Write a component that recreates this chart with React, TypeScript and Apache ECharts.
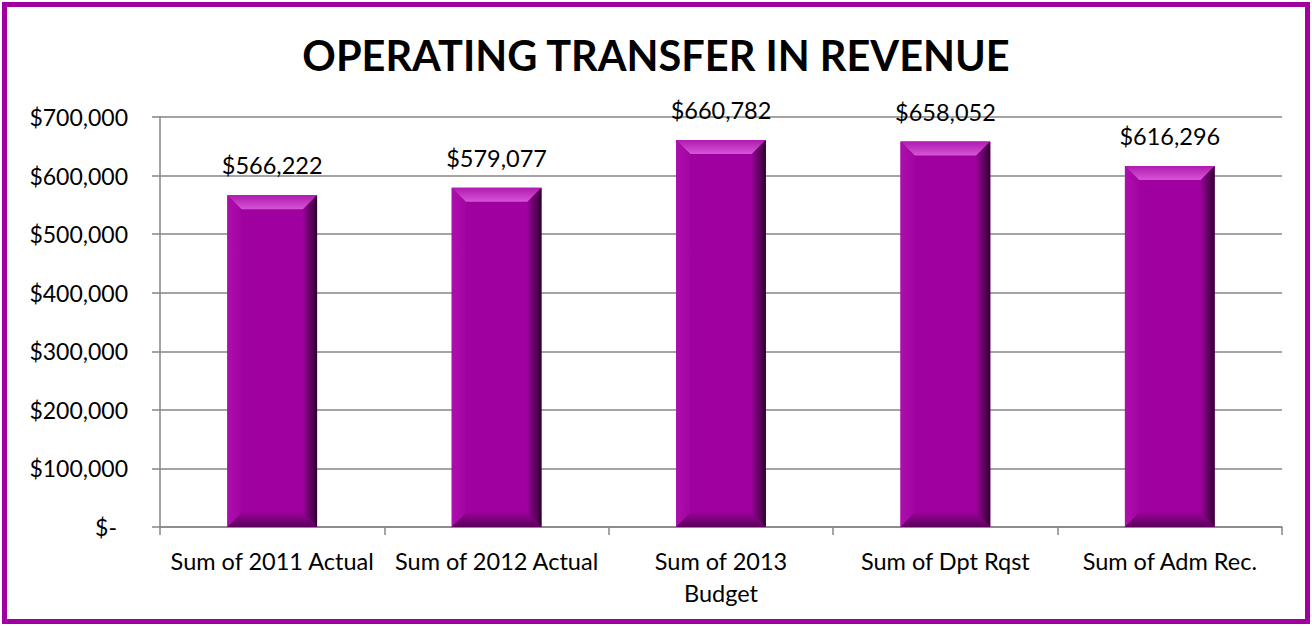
import React, { useEffect, useRef } from "react";
import * as echarts from "echarts";

const categories = [
  "Sum of 2011 Actual",
  "Sum of 2012 Actual",
  "Sum of 2013\nBudget",
  "Sum of Dpt Rqst",
  "Sum of Adm Rec.",
];
const values = [566222, 579077, 660782, 658052, 616296];
const yTicks = [0, 100000, 200000, 300000, 400000, 500000, 600000, 700000];
const titleText = "OPERATING TRANSFER IN REVENUE";

const FONT = "Lato, 'Noto Sans', sans-serif";
const PURPLE = "#A000A0";

const money = (v: number) => (v === 0 ? "$-" : "$" + v.toLocaleString("en-US"));

export default function App() {
  const ref = useRef<HTMLDivElement>(null);
  useEffect(() => {
    if (!ref.current) return;
    const chart = echarts.init(ref.current, undefined, { renderer: "svg" });
    const bevel = 14;
    chart.setOption({
      animation: false,
      backgroundColor: "#ffffff",
      title: {
        text: titleText,
        left: "center",
        top: 29,
        textStyle: { fontFamily: FONT, fontWeight: "bold", fontSize: 41.5, color: "#000" },
      },
      graphic: [
        {
          type: "rect",
          shape: { x: 4.5, y: 4.5, width: 1303, height: 617 },
          style: { fill: "none", stroke: PURPLE, lineWidth: 5 },
          z: 100,
        },
      ],
      grid: { left: 160, right: 30, top: 117, bottom: 99, containLabel: false },
      xAxis: {
        type: "category",
        data: categories,
        axisLine: { show: true, lineStyle: { color: "#868686", width: 1.5 } },
        axisTick: { show: true, length: 8, lineStyle: { color: "#868686", width: 1.5 } },
        axisLabel: {
          fontFamily: FONT,
          fontSize: 23.5,
          color: "#000",
          margin: 18,
          lineHeight: 32,
          interval: 0,
        },
      },
      yAxis: {
        type: "value",
        min: 0,
        max: 700000,
        interval: 100000,
        axisLine: { show: true, lineStyle: { color: "#868686", width: 1.5 } },
        axisTick: { show: true, length: 8, lineStyle: { color: "#868686", width: 1.5 } },
        splitLine: { show: true, lineStyle: { color: "#868686", width: 1.5 } },
        axisLabel: {
          fontFamily: FONT,
          fontSize: 23,
          color: "#000",
          margin: 32,
          formatter: (v: number) => (yTicks.includes(v) ? (v === 0 ? "{z|$-}" : money(v)) : ""),
          rich: { z: { fontFamily: FONT, fontSize: 23, color: "#000", padding: [0, 11, 0, 0] } },
        },
      },
      series: [
        {
          type: "custom",
          data: values.map((v, i) => [i, v]),
          encode: { x: 0, y: 1 },
          renderItem: (params: any, api: any) => {
            const idx = api.value(0);
            const v = api.value(1);
            const top = api.coord([idx, v]);
            const bot = api.coord([idx, 0]);
            const w = api.size([1, 0])[0] * 0.4;
            const x0 = top[0] - w / 2;
            const x1 = top[0] + w / 2;
            const y0 = top[1];
            const y1 = bot[1];
            const b = bevel;
            const lin = (x: number, y: number, x2: number, y2: number, c0: string, c1: string) =>
              new echarts.graphic.LinearGradient(x, y, x2, y2, [
                { offset: 0, color: c0 },
                { offset: 1, color: c1 },
              ]);
            return {
              type: "group",
              children: [
                {
                  type: "rect",
                  shape: { x: x0, y: y0, width: w, height: y1 - y0 },
                  style: { fill: PURPLE },
                },
                {
                  type: "polygon",
                  shape: { points: [[x0, y0], [x1, y0], [x1 - b, y0 + b], [x0 + b, y0 + b]] },
                  style: { fill: lin(0, 0, 0, 1, "#B01AB0", "#D656D6") },
                },
                {
                  type: "polygon",
                  shape: { points: [[x0, y0], [x0 + b, y0 + b], [x0 + b, y1 - b], [x0, y1]] },
                  style: { fill: lin(0, 0, 1, 0, "#AC10AC", "#A204A2") },
                },
                {
                  type: "polygon",
                  shape: { points: [[x1, y0], [x1, y1], [x1 - b, y1 - b], [x1 - b, y0 + b]] },
                  style: { fill: lin(0, 0, 1, 0, "#980098", "#300030") },
                },
                {
                  type: "polygon",
                  shape: { points: [[x0, y1], [x1, y1], [x1 - b, y1 - b], [x0 + b, y1 - b]] },
                  style: { fill: lin(0, 0, 0, 1, "#960096", "#5A005A") },
                },
                {
                  type: "text",
                  x: top[0],
                  y: y0 - 18,
                  style: {
                    text: money(v),
                    align: "center",
                    verticalAlign: "bottom",
                    fontFamily: FONT,
                    fontSize: 23.5,
                    fill: "#000",
                  },
                },
              ],
            };
          },
        },
      ],
    });
    return () => chart.dispose();
  }, []);
  return (
    <div
      ref={ref}
      style={{ position: "absolute", left: 0, top: 0, width: 1312, height: 626 }}
    />
  );
}
